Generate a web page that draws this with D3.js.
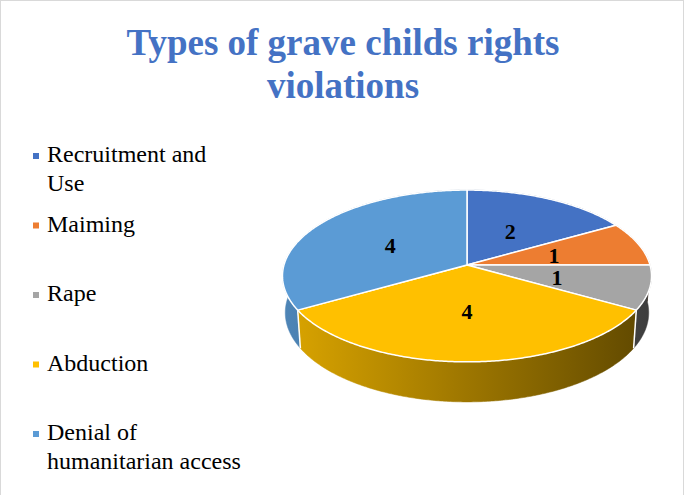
<!DOCTYPE html>
<html>
<head>
<meta charset="utf-8">
<script src="https://cdn.jsdelivr.net/npm/d3@7"></script>
<style>
  html, body { margin: 0; padding: 0; background: #fff; }
  svg { display: block; }
</style>
</head>
<body>
<svg id="chart" width="685" height="495" font-family="Liberation Serif"></svg>
<script>
// ---- data ----
const categories = ["Recruitment and Use", "Maiming", "Rape", "Abduction", "Denial of humanitarian access"];
const values = [2, 1, 1, 4, 4];
const legendLines = [["Recruitment and", "Use"], ["Maiming"], ["Rape"], ["Abduction"], ["Denial of", "humanitarian access"]];
const colors = ["#4472C4", "#ED7D31", "#A5A5A5", "#FFC000", "#5B9BD5"];
const titleLines = ["Types of grave childs rights", "violations"];

const FAM = "Liberation Serif";
const svg = d3.select("#chart");
const defs = svg.append("defs");
const gShapes = svg.append("g");
const gText = svg.append("g").attr("font-family", FAM);

function txt(x, y, size, weight, fill, anchor) {
  return gText.append("text").attr("x", x).attr("y", y)
    .attr("font-family", FAM).style("font-family", FAM)
    .style("font-size", size + "px").style("font-weight", weight)
    .attr("fill", fill).attr("text-anchor", anchor);
}

// title
titleLines.forEach((t, i) => {
  txt(343, 55 + i * 43, 37, "bold", "#4472C4", "middle").text(t);
});

// legend texts
const legY = d3.scaleLinear().domain([0, 1]).range([162, 231.5]);
categories.forEach((c, i) => {
  const y0 = legY(i);
  legendLines[i].forEach((ln, j) => {
    txt(47, y0 + j * 28.5, 24, "normal", "#000", "start").text(ln);
  });
});

// ---- 3D pie with perspective ----
const cx = 467, cy = 265;
const alpha = 27.5 * Math.PI / 180;
const sinA = Math.sin(alpha), cosA = Math.cos(alpha);
const dist = 6.95, focal = 1272;
const thick = 0.228;

function proj(theta, r, h) {
  const x = r * Math.sin(theta);
  const z = -r * Math.cos(theta);
  const depth = dist - z * cosA - h * sinA;
  return [cx + focal * x / depth, cy + focal * (z * sinA - h * cosA) / depth];
}

const pie = d3.pie().sort(null).value(d => d)(values);
const line = d3.line();

// data labels (texts)
pie.forEach(p => {
  const m = (p.startAngle + p.endAngle) / 2;
  const q = proj(m, 0.5, 0);
  txt(q[0], q[1] + 8.5, 22, "bold", "#000", "middle").text(p.data);
});

// border
gShapes.append("rect").attr("x", 0.5).attr("y", 0.5).attr("width", 683).attr("height", 505)
  .attr("fill", "none").attr("stroke", "#D9D9D9").attr("stroke-width", 1);

// legend markers
categories.forEach((c, i) => {
  gShapes.append("rect").attr("x", 33).attr("y", legY(i) - 9).attr("width", 6).attr("height", 6).attr("fill", colors[i]);
});

function arcPts(a0, a1, h) {
  const n = Math.max(8, Math.ceil((a1 - a0) / 0.01));
  const pts = [];
  for (let k = 0; k <= n; k++) pts.push(proj(a0 + (a1 - a0) * k / n, 1, h));
  return pts;
}

// wall gradients
const xLeft = proj(-Math.PI / 2, 1, 0)[0], xRight = proj(Math.PI / 2, 1, 0)[0];
const shade = d3.scaleLinear().domain([xLeft, xRight]).range([0.86, 0.37]);
colors.forEach((c, i) => {
  const g = defs.append("linearGradient").attr("id", "wall" + i)
    .attr("gradientUnits", "userSpaceOnUse")
    .attr("x1", xLeft).attr("x2", xRight).attr("y1", 0).attr("y2", 0);
  const base = d3.rgb(c);
  [0, 0.25, 0.5, 0.75, 1].forEach(t => {
    const f = shade(xLeft + (xRight - xLeft) * t);
    g.append("stop").attr("offset", t)
      .attr("stop-color", d3.rgb(base.r * f, base.g * f, base.b * f).formatHex());
  });
});

// walls, back to front
const wallOrder = pie.map((p, i) => ({p, i, z: -Math.cos((p.startAngle + p.endAngle) / 2)}))
  .sort((a, b) => a.z - b.z);
wallOrder.forEach(({p, i}) => {
  const top = arcPts(p.startAngle, p.endAngle, 0);
  const bot = arcPts(p.startAngle, p.endAngle, -thick).reverse();
  gShapes.append("path").attr("d", line(top.concat(bot)) + "Z")
    .attr("fill", `url(#wall${i})`).attr("stroke", `url(#wall${i})`).attr("stroke-width", 0.5);
});
// separators on visible wall boundaries
pie.forEach(p => {
  const a = p.startAngle;
  if (a > Math.PI / 2 + 0.05 && a < 3 * Math.PI / 2 - 0.05) {
    const t = proj(a, 1, 0), b = proj(a, 1, -thick);
    gShapes.append("line").attr("x1", t[0]).attr("y1", t[1]).attr("x2", b[0]).attr("y2", b[1])
      .attr("stroke", "#fff").attr("stroke-width", 1.5);
  }
});

// top faces
pie.forEach((p, i) => {
  const pts = [proj(0, 0, 0)].concat(arcPts(p.startAngle, p.endAngle, 0));
  gShapes.append("path").attr("d", line(pts) + "Z")
    .attr("fill", colors[i]).attr("stroke", "#fff").attr("stroke-width", 1.5)
    .attr("stroke-linejoin", "round");
});
</script>
</body>
</html>
